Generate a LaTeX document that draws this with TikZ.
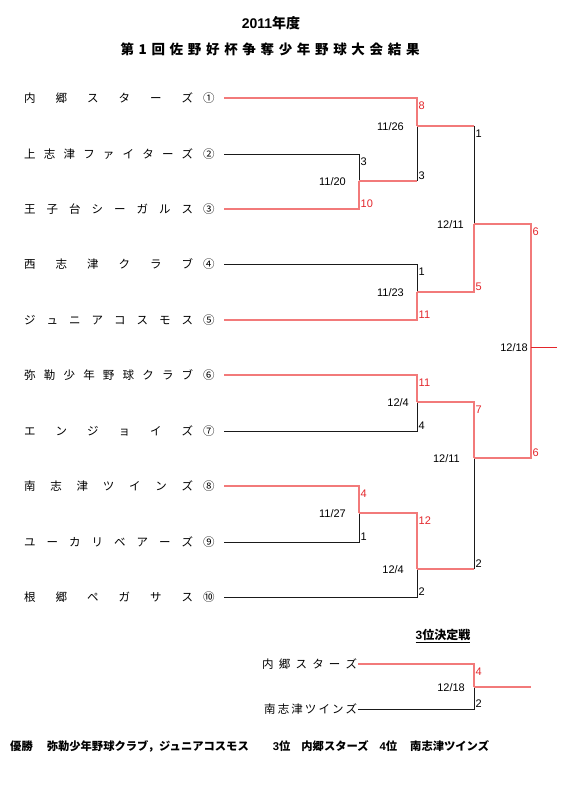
\documentclass[tikz,border=0pt]{standalone}
\usepackage{fontspec}
\setmainfont{Liberation Sans}
\newfontfamily\jp{Noto Sans CJK JP}
\usetikzlibrary{positioning,calc}
\definecolor{winred}{HTML}{F27A7A}
\definecolor{scorered}{HTML}{E3262B}
\definecolor{loseblack}{HTML}{1A1A1A}

% spread the letters of a name evenly over a given width
\makeatletter
\newcommand\spreadname[2]{%
  \makebox[#1][s]{\@tempswafalse\@tfor\sn@ch:=#2\do{\if@tempswa\hfil\fi\sn@ch\@tempswatrue}}}
\makeatother

\tikzset{
  team/.style   ={anchor=west, inner sep=0pt, font=\jp\fontsize{11.5}{13}\selectfont},
  win/.style    ={draw=winred, line width=1.2pt},
  lose/.style   ={draw=loseblack, line width=0.7pt},
  score/.style  ={font=\fontsize{11}{13}\selectfont, inner sep=1.5pt},
  topwin/.style ={score, anchor=north west, yshift=-2.5pt, text=scorered},
  toplose/.style={score, anchor=north west, yshift=-2.5pt},
  botwin/.style ={score, anchor=south west, text=scorered},
  botlose/.style={score, anchor=south west},
  date/.style   ={score, anchor=east, xshift=-11.5pt, yshift=-1pt},
}

\begin{document}
\begin{tikzpicture}[x=1pt, y=-1pt]
\useasboundingbox (0,0) rectangle (579,786);

% ---------------------------------------------------------------- title
\node[font=\bfseries\fontsize{14}{16}\selectfont] (year) at (271,23) {2011{\jp 年度}};
\node[font=\jp\bfseries\fontsize{13.5}{15}\selectfont] (title) at (270,49)
  {\spreadname{299pt}{第1回佐野好杯争奪少年野球大会結果}};

% ---------------------------------------------------------------- teams
\node[team] (n1)  at (24,98)  {\spreadname{169pt}{内郷スターズ}\hspace{10pt}\makebox[11.5pt]{①}};
\node[team] (n2)  at (24,154) {\spreadname{169pt}{上志津ファイターズ}\hspace{10pt}\makebox[11.5pt]{②}};
\node[team] (n3)  at (24,209) {\spreadname{169pt}{王子台シーガルス}\hspace{10pt}\makebox[11.5pt]{③}};
\node[team] (n4)  at (24,264) {\spreadname{169pt}{西志津クラブ}\hspace{10pt}\makebox[11.5pt]{④}};
\node[team] (n5)  at (24,320) {\spreadname{169pt}{ジュニアコスモス}\hspace{10pt}\makebox[11.5pt]{⑤}};
\node[team] (n6)  at (24,375) {\spreadname{169pt}{弥勒少年野球クラブ}\hspace{10pt}\makebox[11.5pt]{⑥}};
\node[team] (n7)  at (24,431) {\spreadname{169pt}{エンジョイズ}\hspace{10pt}\makebox[11.5pt]{⑦}};
\node[team] (n8)  at (24,486) {\spreadname{169pt}{南志津ツインズ}\hspace{10pt}\makebox[11.5pt]{⑧}};
\node[team] (n9)  at (24,542) {\spreadname{169pt}{ユーカリベアーズ}\hspace{10pt}\makebox[11.5pt]{⑨}};
\node[team] (n10) at (24,597) {\spreadname{169pt}{根郷ペガサス}\hspace{10pt}\makebox[11.5pt]{⑩}};

% ---------------------------------------------------------------- match points
\coordinate (mA)   at (359,181);
\coordinate (mB)   at (417,126);
\coordinate (mC)   at (417,292);
\coordinate (mD)   at (474,224);
\coordinate (mE)   at (417,402);
\coordinate (mF)   at (359,513);
\coordinate (mG)   at (417,569);
\coordinate (mH)   at (474,458);
\coordinate (mFin) at (531,347);
\coordinate (champ) at (557,347);

% ---------------------------------------------------------------- first round
\draw[lose] ([xshift=9.5pt]n2.east) -| (mA);
\draw[win]  ([xshift=9.5pt]n3.east) -| (mA);
\draw[win]  ([xshift=9.5pt]n1.east) -| (mB);
\draw[win]  (mA) -- (mA -| mB);
\draw[lose] (mA -| mB) -- (mB);
\draw[lose] ([xshift=9.5pt]n4.east) -| (mC);
\draw[win]  ([xshift=9.5pt]n5.east) -| (mC);
\draw[win]  ([xshift=9.5pt]n6.east) -| (mE);
\draw[lose] ([xshift=9.5pt]n7.east) -| (mE);
\draw[win]  ([xshift=9.5pt]n8.east) -| (mF);
\draw[lose] ([xshift=9.5pt]n9.east) -| (mF);
\draw[win]  (mF) -| (mG);
\draw[lose] ([xshift=9.5pt]n10.east) -| (mG);

% ---------------------------------------------------------------- semi-finals
\draw[win]  (mB) -- (mB -| mD);
\draw[lose] (mB -| mD) -- (mD);
\draw[win]  (mC) -| (mD);
\draw[win]  (mE) -| (mH);
\draw[win]  (mG) -- (mG -| mH);
\draw[lose] (mG -| mH) -- (mH);

% ---------------------------------------------------------------- final
\draw[win] (mD) -| (mFin);
\draw[win] (mH) -| (mFin);
\draw[win, draw=scorered, line width=0.6pt] (mFin) -- (champ);

% ---------------------------------------------------------------- scores
\node[toplose] at (mA |- n2.east) {3};
\node[botwin]  at (mA |- n3.east) {10};
\node[topwin]  at (mB |- n1.east) {8};
\node[botlose] at (mB |- mA) {3};
\node[toplose] at (mC |- n4.east) {1};
\node[botwin]  at (mC |- n5.east) {11};
\node[toplose] at (mD |- mB) {1};
\node[botwin]  at (mD |- mC) {5};
\node[topwin]  at (mE |- n6.east) {11};
\node[botlose] at (mE |- n7.east) {4};
\node[topwin]  at (mF |- n8.east) {4};
\node[botlose] at (mF |- n9.east) {1};
\node[topwin]  at (mG |- mF) {12};
\node[botlose] at (mG |- n10.east) {2};
\node[topwin]  at (mH |- mE) {7};
\node[botlose] at (mH |- mG) {2};
\node[topwin]  at (mFin |- mD) {6};
\node[botwin]  at (mFin |- mH) {6};

% ---------------------------------------------------------------- dates
\node[date] at (mA) {11/20};
\node[date] at (mB) {11/26};
\node[date] at (mC) {11/23};
\node[date, xshift=3pt] at (mD) {12/11};
\node[date, xshift=5pt] at (mE) {12/4};
\node[date] at (mF) {11/27};
\node[date] at (mG) {12/4};
\node[date, xshift=-1pt] at (mH) {12/11};
\node[date, xshift=10pt] at (mFin) {12/18};

% ---------------------------------------------------------------- third place
\node[font=\bfseries\fontsize{12}{14}\selectfont] (third) at (443,636) {\underline{3{\jp 位決定戦}}};
\node[team] (q1) at (262,664) {\spreadname{95pt}{内郷スターズ}};
\node[team] (q2) at (264,709) {\spreadname{93pt}{南志津ツインズ}};
\coordinate (mQ) at (474,687);
\coordinate (bronze) at (531,687);
\draw[win]  ([xshift=1pt]q1.east) -| (mQ);
\draw[lose] ([xshift=1pt]q2.east) -| (mQ);
\draw[win]  (mQ) -- (bronze);
\node[topwin]  at (mQ |- q1.east) {4};
\node[botlose] at (mQ |- q2.east) {2};
\node[date, xshift=4pt] at (mQ) {12/18};

% ---------------------------------------------------------------- result
\node[anchor=west, inner sep=0pt, font=\bfseries\fontsize{11.3}{13}\selectfont] (result) at (10,746)
  {{\jp 優勝}\hspace{14pt}{\jp 弥勒少年野球クラブ，ジュニアコスモス}\hspace{24pt}3{\jp 位}\hspace{11pt}{\jp 内郷スターズ}\hspace{11pt}4{\jp 位}\hspace{13pt}{\jp 南志津ツインズ}};

\end{tikzpicture}
\end{document}
